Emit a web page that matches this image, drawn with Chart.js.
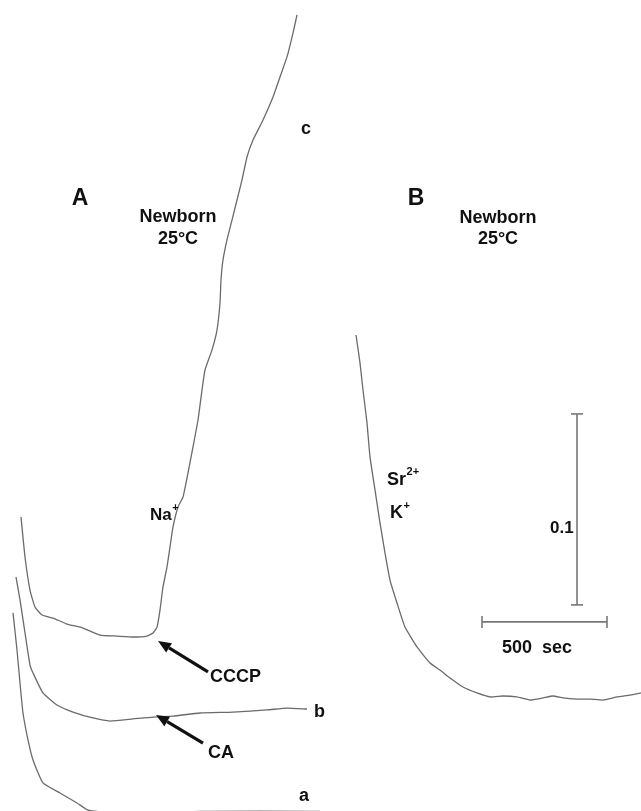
<!DOCTYPE html>
<html>
<head>
<meta charset="utf-8">
<script src="https://cdn.jsdelivr.net/npm/chart.js@4/dist/chart.umd.min.js"></script>
<style>
  html, body { margin: 0; padding: 0; background: #fff; }
  canvas { display: block; }
</style>
</head>
<body>
<canvas id="traceChart" width="641" height="811"></canvas>
<script>
// time in seconds, absorbance in mA (0.1 A = 100 mA)
// panel A, trace c (CCCP then Na+)
const cTime = [84, 100, 120, 140, 168, 212, 268, 332, 400, 468, 532, 588, 612, 628, 640, 652, 668, 680, 692, 712, 732, 752, 772, 792, 808, 820, 848, 868, 880, 884, 892, 908, 928, 948, 968, 988, 1012, 1052, 1092, 1120, 1148, 1172, 1188];
const cAbs = [153.9, 133.0, 115.7, 106.8, 102.6, 101.0, 97.9, 95.8, 92.1, 91.6, 91.1, 91.6, 93.2, 96.3, 105.2, 117.3, 127.8, 138.2, 148.7, 159.2, 164.4, 177.0, 190.6, 204.7, 220.4, 230.9, 241.4, 251.8, 266.0, 278.0, 288.5, 299.0, 309.4, 319.9, 330.4, 342.4, 351.3, 361.8, 373.8, 384.3, 394.8, 407.3, 416.8];

// panel A, trace b (CA)
const bTime = [64, 80, 100, 120, 132, 172, 228, 292, 372, 440, 532, 612, 692, 800, 932, 1068, 1148, 1228];
const bAbs = [122.5, 110.5, 93.2, 76.4, 72.3, 61.8, 55.5, 51.8, 48.7, 47.1, 48.2, 49.2, 49.7, 51.3, 51.8, 52.9, 53.9, 53.4];

// panel A, trace a (runs off the bottom edge)
const aTime = [52, 68, 80, 92, 112, 132, 172, 240, 308, 352, 480, 800, 1280];
const aAbs = [103.7, 84.3, 67.0, 51.3, 37.2, 26.7, 14.7, 9.4, 4.2, 0.5, -1.5, -0.2, -0.2];

// panel B (Sr2+ / K+)
const srTime = [1424, 1440, 1452, 1468, 1480, 1500, 1520, 1540, 1560, 1588, 1620, 1668, 1720, 1760, 1800, 1852, 1908, 1960, 2012, 2068, 2120, 2172, 2212, 2252, 2308, 2360, 2412, 2468, 2520, 2564];
const srAbs = [249.2, 234.6, 220.4, 203.2, 185.4, 168.1, 150.8, 135.1, 120.9, 108.9, 96.3, 85.9, 77.5, 73.8, 69.6, 64.9, 61.8, 59.7, 60.2, 59.7, 58.1, 59.2, 60.2, 59.2, 58.6, 58.6, 58.1, 59.7, 60.7, 61.8];

// scale bars: 500 sec and 0.1 A
const timeBarTime = [1928, 2428];
const timeBarAbs = [99, 99];
const absBarTime = [2308, 2308];
const absBarAbs = [107.9, 207.9];

// arrows [tail, tip]
const cccpArrowTime = [832, 632];
const cccpArrowAbs = [72.8, 89.0];
const caArrowTime = [812, 624];
const caArrowAbs = [35.6, 50.3];

const toPoints = (xs, ys) => xs.map((x, i) => ({ x: x, y: ys[i] }));

const traceStyle = {
  showLine: true,
  borderColor: '#6b6b6b',
  borderWidth: 1.3,
  pointRadius: 0,
  tension: 0.15,
  fill: false
};

const FONT = '"Liberation Sans", Arial, sans-serif';

// text labels placed in data units
const labels = [
  { text: 'A', t: 320, a: 320.4, size: 23, align: 'center' },
  { text: 'Newborn', t: 712, a: 311.0, size: 18, align: 'center' },
  { text: '25°C', t: 712, a: 299.5, size: 18, align: 'center' },
  { text: 'c', t: 1224, a: 357.1, size: 18, align: 'center' },
  { text: 'B', t: 1664, a: 320.4, size: 23, align: 'center' },
  { text: 'Newborn', t: 1992, a: 310.5, size: 18, align: 'center' },
  { text: '25°C', t: 1992, a: 299.5, size: 18, align: 'center' },
  { text: 'Na', sup: '+', t: 600, a: 155.0, size: 17, align: 'left' },
  { text: 'CCCP', t: 840, a: 70.2, size: 18, align: 'left' },
  { text: 'b', t: 1256, a: 51.8, size: 18, align: 'left' },
  { text: 'CA', t: 832, a: 30.4, size: 18, align: 'left' },
  { text: 'a', t: 1196, a: 7.9, size: 18, align: 'left' },
  { text: 'Sr', sup: '2+', t: 1548, a: 173.3, size: 18, align: 'left' },
  { text: 'K', sup: '+', t: 1560, a: 156.0, size: 18, align: 'left' },
  { text: '0.1', t: 2200, a: 148.2, size: 17, align: 'left' },
  { text: '500  sec', t: 2148, a: 85.3, size: 18, align: 'center' }
];

const annotations = {
  id: 'annotations',
  afterDatasetsDraw(chart) {
    const ctx = chart.ctx;
    const xs = chart.scales.x, ys = chart.scales.y;
    ctx.save();

    // arrows
    const arrows = [[cccpArrowTime, cccpArrowAbs], [caArrowTime, caArrowAbs]];
    arrows.forEach(([tt, aa]) => {
      const x0 = xs.getPixelForValue(tt[0]), y0 = ys.getPixelForValue(aa[0]);
      const x1 = xs.getPixelForValue(tt[1]), y1 = ys.getPixelForValue(aa[1]);
      const ang = Math.atan2(y1 - y0, x1 - x0);
      const head = 13, half = 5.5;
      const bx = x1 - head * Math.cos(ang), by = y1 - head * Math.sin(ang);
      ctx.strokeStyle = '#111';
      ctx.fillStyle = '#111';
      ctx.lineWidth = 3.2;
      ctx.beginPath();
      ctx.moveTo(x0, y0);
      ctx.lineTo(bx, by);
      ctx.stroke();
      ctx.beginPath();
      ctx.moveTo(x1, y1);
      ctx.lineTo(bx + half * Math.sin(ang), by - half * Math.cos(ang));
      ctx.lineTo(bx - half * Math.sin(ang), by + half * Math.cos(ang));
      ctx.closePath();
      ctx.fill();
    });

    // labels
    ctx.fillStyle = '#111';
    ctx.textBaseline = 'middle';
    labels.forEach(l => {
      const px = xs.getPixelForValue(l.t), py = ys.getPixelForValue(l.a);
      ctx.font = 'bold ' + l.size + 'px ' + FONT;
      const w = ctx.measureText(l.text).width;
      const supSize = Math.round(l.size * 0.62);
      let supW = 0;
      if (l.sup) {
        ctx.font = 'bold ' + supSize + 'px ' + FONT;
        supW = ctx.measureText(l.sup).width;
      }
      let left = l.align === 'center' ? px - (w + supW) / 2 : px;
      ctx.textAlign = 'left';
      ctx.font = 'bold ' + l.size + 'px ' + FONT;
      ctx.fillText(l.text, left, py);
      if (l.sup) {
        ctx.font = 'bold ' + supSize + 'px ' + FONT;
        ctx.fillText(l.sup, left + w + 0.5, py - l.size * 0.42);
      }
    });
    ctx.restore();
  }
};

new Chart(document.getElementById('traceChart').getContext('2d'), {
  type: 'scatter',
  data: {
    datasets: [
      Object.assign({ label: 'c', data: toPoints(cTime, cAbs) }, traceStyle),
      Object.assign({ label: 'b', data: toPoints(bTime, bAbs) }, traceStyle),
      Object.assign({ label: 'a', data: toPoints(aTime, aAbs) }, traceStyle),
      Object.assign({ label: 'Sr2+', data: toPoints(srTime, srAbs) }, traceStyle),
      {
        label: '500 sec',
        data: toPoints(timeBarTime, timeBarAbs),
        showLine: true,
        borderColor: '#777',
        borderWidth: 1.6,
        pointStyle: 'line',
        pointRotation: 90,
        pointRadius: 6,
        pointBorderWidth: 1.6,
        pointBorderColor: '#777'
      },
      {
        label: '0.1 A',
        data: toPoints(absBarTime, absBarAbs),
        showLine: true,
        borderColor: '#777',
        borderWidth: 1.6,
        pointStyle: 'line',
        pointRotation: 0,
        pointRadius: 6,
        pointBorderWidth: 1.6,
        pointBorderColor: '#777'
      }
    ]
  },
  options: {
    responsive: false,
    animation: false,
    layout: { padding: 0, autoPadding: false },
    plugins: {
      legend: { display: false },
      tooltip: { enabled: false }
    },
    scales: {
      x: { type: 'linear', min: 0, max: 2564, display: false },
      y: { type: 'linear', min: 0, max: 811 / 1.91, display: false }
    }
  },
  plugins: [annotations]
});
</script>
</body>
</html>
